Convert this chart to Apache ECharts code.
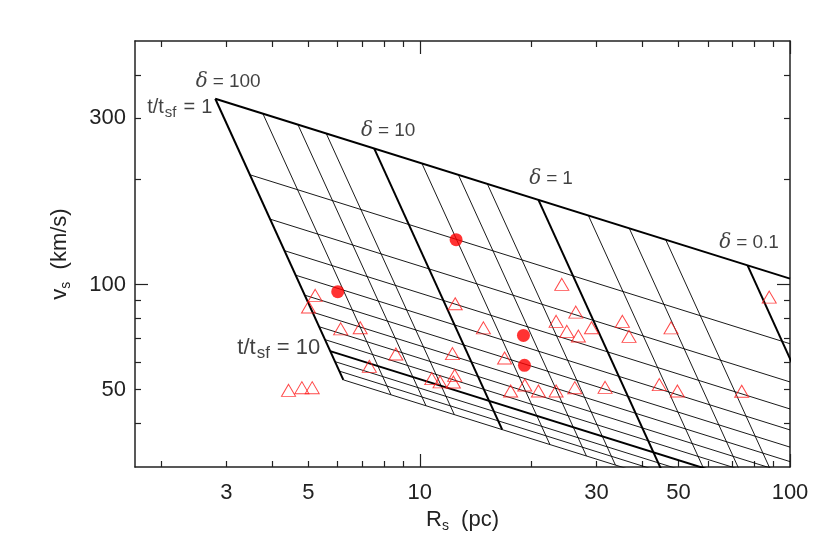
<!DOCTYPE html>
<html><head><meta charset="utf-8">
<script src="https://cdn.jsdelivr.net/npm/echarts@6/dist/echarts.min.js"></script>
<style>html,body{margin:0;padding:0;background:#fff}#c{width:830px;height:553px}</style>
</head><body><div id="c"></div>
<script>
// ---------- data (R in pc, v in km/s) ----------
const xRange = [1.7, 100];
const yRange = [30, 500];
const xTickLabels = [3, 5, 10, 30, 50, 100];
const xMinorTicks = [2, 3, 4, 5, 6, 7, 8, 9, 20, 30, 40, 50, 60, 70, 80, 90];
const xMajorTicks = [10, 100];
const yTickLabels = [50, 100, 300];
const yMinorTicks = [40, 50, 60, 70, 80, 90, 200, 300, 400];
const yMajorTicks = [100];

// lines of constant delta: from t/t_sf = 1 to the last t line
const deltaValues = [100, 50, 30, 20, 10, 5, 3, 2, 1, 0.5, 0.3, 0.2, 0.1];
const deltaTopR = [2.801, 3.767, 4.683, 5.585, 7.526, 10.13, 12.71, 15.22, 20.91, 28.53, 36.81, 46.17, 76.79];
const deltaTopV = [341.5, 309.4, 287.9, 271.5, 245.9, 222.7, 206.5, 194.5, 175.1, 157.9, 145.0, 134.5, 113.6];
const deltaBotR = [6.213, 8.356, 10.39, 12.39, 16.69, 22.46, 28.19, 33.76, 46.38, 63.28, 81.64, 102.4, 170.3];
const deltaBotV = [53.34, 48.33, 44.96, 42.41, 38.39, 34.79, 32.25, 30.38, 27.35, 24.66, 22.65, 21.01, 17.74];
const thickDelta = [100, 10, 1, 0.1];

// lines of constant t/t_sf: from the delta=100 line to the right edge
const tValues = [1, 2, 3, 4, 5, 6, 7, 8, 9, 10, 11, 12, 13];
const tLeftR = [2.801, 3.473, 3.938, 4.307, 4.616, 4.885, 5.125, 5.342, 5.541, 5.725, 5.898, 6.059, 6.213];
const tLeftV = [341.5, 206.7, 154.2, 125.2, 106.5, 93.33, 83.45, 75.78, 69.58, 64.47, 60.17, 56.51, 53.34];
const tRightR = [100, 100, 100, 100, 100, 100, 100, 100, 100, 100, 100, 100, 100];
const tRightV = [104.1, 67.70, 52.61, 44.01, 38.32, 34.21, 31.09, 28.62, 26.61, 24.92, 23.49, 22.26, 21.18];
const thickT = [1, 10];

// observed objects
const triangleR = [5.215, 5.003, 6.111, 6.900, 7.305, 4.418, 4.800, 5.119, 8.614, 10.77, 11.34, 12.42, 12.32,
  12.46, 14.85, 12.25, 16.94, 17.59, 19.21, 20.91, 23.34, 26.22, 31.65, 44.35, 49.63, 74.05,
  24.18, 26.38, 23.34, 24.95, 26.81, 29.09, 35.25, 36.74, 47.71, 87.87];
const triangleV = [93.18, 86.27, 74.69, 75.28, 58.32, 49.77, 50.66, 50.66, 63.24, 53.77, 52.64, 54.95, 52.58,
  88.22, 75.18, 63.42, 61.61, 49.55, 51.55, 49.55, 49.55, 50.66, 50.77, 51.68, 49.55, 49.45,
  100.2, 83.45, 78.50, 73.47, 71.22, 75.28, 78.50, 71.09, 75.18, 92.13];
const circleR = [12.53, 6.00, 19.05, 19.17];
const circleV = [134.6, 95.48, 71.55, 58.70];

// annotations
const annotationText = ['δ=100', 't/t_sf=1', 'δ=10', 'δ=1', 'δ=0.1', 't/t_sf=10'];
const annotationR = [3.035, 2.245, 8.21, 22.62, 77.5, 4.157];
const annotationV = [382.6, 322.4, 277.0, 201.7, 132.2, 65.7];

// ---------- chart ----------
const L = Math.log10;
const FONT = 'Liberation Sans';
const AX = '#222';

function axis(gridIndex, position, range, ticks, tickLen, labels, extra) {
  return Object.assign({
    type: 'value', gridIndex: gridIndex, position: position,
    min: L(range[0]), max: L(range[1]),
    axisLine: { show: true, onZero: false, lineStyle: { color: AX, width: 1.5 } },
    axisTick: { show: true, inside: true, length: tickLen, customValues: ticks.map(L),
      lineStyle: { color: AX, width: 1.2 } },
    axisLabel: labels ? {
      show: true, customValues: labels.map(L),
      formatter: function (v) { return String(Math.round(Math.pow(10, v))); },
      fontFamily: FONT, fontSize: 22, color: '#222'
    } : { show: false },
    splitLine: { show: false }, minorTick: { show: false }, minorSplitLine: { show: false }
  }, extra || {});
}

const nameRich = {
  a: { fontFamily: FONT, fontSize: 22, color: '#222', lineHeight: 26, verticalAlign: 'middle' },
  s: { fontFamily: FONT, fontSize: 14, color: '#222', lineHeight: 14, verticalAlign: 'bottom' }
};

const xAxes = [
  axis(0, 'bottom', xRange, xMinorTicks, 6, xTickLabels, {
    name: '{a|R}{s|s}{a|  (pc)}', nameLocation: 'middle', nameGap: 40,
    nameTextStyle: { rich: nameRich }
  }),
  axis(0, 'top', xRange, xMinorTicks, 6, null),
  axis(1, 'bottom', xRange, xMajorTicks, 13, null, { axisLine: { show: false, onZero: false } }),
  axis(1, 'top', xRange, xMajorTicks, 13, null, { axisLine: { show: false, onZero: false } })
];
xAxes[0].axisLabel.margin = 15;
const yAxes = [
  axis(0, 'left', yRange, yMinorTicks, 6, yTickLabels, {
    name: '{a|v}{s|s}{a|  (km/s)}', nameLocation: 'middle', nameGap: 62, nameRotate: 90,
    nameTextStyle: { rich: nameRich }
  }),
  axis(0, 'right', yRange, yMinorTicks, 6, null),
  axis(1, 'left', yRange, yMajorTicks, 13, null, { axisLine: { show: false, onZero: false } }),
  axis(1, 'right', yRange, yMajorTicks, 13, null, { axisLine: { show: false, onZero: false } })
];
yAxes[0].axisLabel.margin = 9;

const series = [];
deltaValues.forEach(function (d, i) {
  series.push({
    type: 'line', xAxisIndex: 0, yAxisIndex: 0, symbol: 'none', silent: true, clip: true, z: 2,
    data: [[L(deltaTopR[i]), L(deltaTopV[i])], [L(deltaBotR[i]), L(deltaBotV[i])]],
    lineStyle: { color: '#000', width: thickDelta.indexOf(d) >= 0 ? 2 : 0.9 }
  });
});
tValues.forEach(function (t, i) {
  series.push({
    type: 'line', xAxisIndex: 0, yAxisIndex: 0, symbol: 'none', silent: true, clip: true, z: 2,
    data: [[L(tLeftR[i]), L(tLeftV[i])], [L(tRightR[i]), L(tRightV[i])]],
    lineStyle: { color: '#000', width: thickT.indexOf(t) >= 0 ? 2 : 0.9 }
  });
});
series.push({
  type: 'scatter', xAxisIndex: 0, yAxisIndex: 0, z: 5, silent: true,
  symbol: 'triangle', symbolSize: [14, 12],
  itemStyle: { color: 'rgba(0,0,0,0)', borderColor: '#ff1a1a', borderWidth: 1 },
  data: triangleR.map(function (r, i) { return [L(r), L(triangleV[i])]; })
});
series.push({
  type: 'scatter', xAxisIndex: 0, yAxisIndex: 0, z: 6, silent: true,
  symbol: 'circle', symbolSize: 13,
  itemStyle: { color: '#ff0000' },
  data: circleR.map(function (r, i) { return [L(r), L(circleV[i])]; })
});

function richText(s) {
  const k = s === 't/t_sf=10' ? 'B' : (s.charAt(0) === 't' ? 'T' : '');
  const parts = s.split('=');
  let left;
  if (parts[0] === 'δ') left = '{d' + k + '|δ}';
  else { const m = parts[0].split('_'); left = '{n' + k + '|' + m[0] + '}{s' + k + '|' + m[1] + '}'; }
  return left + '{e' + k + '|=}{n' + k + '|' + parts[1] + '}';
}
function annRich(fs, pad) {
  const sub = Math.round(fs * 0.75);
  return {
    n: { fontFamily: FONT, fontSize: fs, color: '#111', lineHeight: fs + 5, verticalAlign: 'middle' },
    s: { fontFamily: FONT, fontSize: sub, color: '#111', lineHeight: sub, verticalAlign: 'bottom', padding: [0, 1, 0, 1] },
    e: { fontFamily: FONT, fontSize: fs, color: '#111', lineHeight: fs + 5, verticalAlign: 'middle', padding: [0, pad, 0, pad] },
    d: { fontFamily: 'DejaVu Serif', fontStyle: 'italic', fontSize: fs + 1, color: '#111', lineHeight: fs + 5, verticalAlign: 'middle' }
  };
}
const rich = {};
[['', 19, 5], ['T', 20, 6], ['B', 22, 6]].forEach(function (cfg) {
  const r = annRich(cfg[1], cfg[2]);
  Object.keys(r).forEach(function (key) { rich[key + cfg[0]] = r[key]; });
});

series.push({
  type: 'scatter', xAxisIndex: 0, yAxisIndex: 0, z: 7, silent: true,
  symbol: 'circle', symbolSize: 1, itemStyle: { color: 'rgba(0,0,0,0)' },
  label: {
    show: true, position: 'inside',
    formatter: function (p) { return richText(p.name); },
    rich: rich
  },
  data: annotationText.map(function (t, i) { return { name: t, value: [L(annotationR[i]), L(annotationV[i])] }; })
});

const chart = echarts.init(document.getElementById('c'), null, { renderer: 'canvas' });
chart.setOption({
  animation: false,
  backgroundColor: '#fff',
  grid: [
    { left: 135, right: 40, top: 41, bottom: 86, containLabel: false, outerBoundsMode: 'none' },
    { left: 135, right: 40, top: 41, bottom: 86, containLabel: false, outerBoundsMode: 'none' }
  ],
  xAxis: xAxes,
  yAxis: yAxes,
  series: series
});
</script>
</body></html>
